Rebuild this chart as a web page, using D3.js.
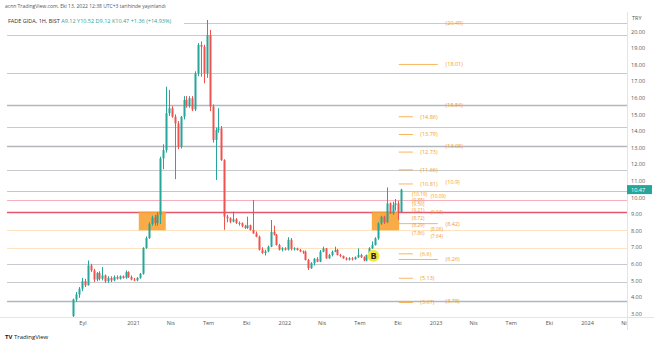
<!DOCTYPE html>
<html><head><meta charset="utf-8">
<script src="https://cdn.jsdelivr.net/npm/d3@7"></script>
<style>body{margin:0;background:#fff;} svg{display:block;font-family:"Open Sans","DejaVu Sans",sans-serif;}</style>
</head><body><svg id="c" width="654" height="346"></svg>
<script>
// ---------- DATA ----------
const firstWeek = "2020-08-10"; // weekly bars (1H = 1 hafta)
const open  = [2.85,3.85,4.15,4.5,4.95,4.7,5.9,5.6,5.05,5.45,5.1,5.3,4.95,5.15,5.0,5.2,5.1,5.25,5.15,5.5,5.2,5.05,5.0,5.15,5.4,6.95,7.55,8.4,8.8,8.45,8.95,12.35,12.85,15.07,15.37,14.86,14.46,13.06,14.86,15.87,15.5,15.97,15.3,17.47,19.18,19.08,17.47,19.78,15.47,13.46,14.06,14.16,12.25,
  8.84,8.74,8.54,8.68,8.46,8.44,8.26,8.16,8.32,8.04,7.83,7.63,6.85,6.65,6.75,7.03,7.93,7.75,7.13,6.85,6.93,6.85,7.45,6.9,6.93,6.83,6.75,6.73,6.23,5.73,6.03,6.3,6.13,6.73,6.93,6.33,6.53,6.73,6.83,6.53,6.47,6.33,6.25,6.33,6.27,6.39,6.53,6.39,6.2,6.53,6.93,7.13,7.53,8.44,8.84,8.5,9.64,9.04,9.54,9.64,9.12];
const high  = [3.9,4.3,4.6,5.15,5.1,6.2,6.0,5.7,5.5,5.55,5.8,5.35,5.25,5.25,5.3,5.3,5.3,5.3,5.6,5.55,5.3,5.15,5.2,5.45,7.0,7.65,8.5,8.9,8.95,9.1,12.45,13.2,16.67,16.47,15.5,15.0,14.6,14.9,16.1,16.1,16.1,16.1,17.6,19.3,19.4,19.2,20.69,20.09,15.6,14.2,15.37,14.3,12.3,
  8.95,8.8,9.14,8.75,8.55,8.5,8.35,8.84,8.36,9.84,7.95,7.7,7.0,6.85,7.1,8.64,8.3,7.8,7.2,7.0,7.0,7.6,7.55,7.0,6.97,6.9,6.8,6.8,6.3,6.1,6.35,6.4,6.83,7.03,6.95,6.6,6.8,7.03,6.9,6.6,6.5,6.4,6.4,6.4,6.45,6.93,6.6,6.45,6.55,7.0,7.35,7.6,8.5,8.9,8.9,10.6,9.7,9.74,9.9,9.8,10.52];
const low   = [2.8,3.7,3.95,4.35,4.6,4.7,5.5,4.9,4.95,5.0,5.0,4.85,4.85,4.9,4.95,5.05,5.05,5.1,5.1,5.15,5.0,4.95,4.95,5.1,5.35,6.9,7.5,8.3,8.3,8.3,8.4,11.7,12.7,14.9,14.8,11.1,12.9,12.95,14.7,15.4,15.4,15.2,15.2,17.3,17.27,16.87,17.2,15.2,13.3,11.05,13.9,12.2,8.05,
  8.5,8.45,8.5,8.4,8.3,8.2,8.1,8.1,8.0,7.8,7.6,6.8,6.6,6.5,6.7,7.0,7.7,7.1,6.8,6.75,6.8,6.8,6.8,6.8,6.8,6.7,6.6,6.2,5.63,5.7,5.9,6.1,6.1,6.7,6.3,6.3,6.45,6.7,6.5,6.4,6.3,6.2,6.2,6.2,6.25,6.35,6.35,6.15,6.15,6.5,6.9,7.1,7.45,8.35,8.4,8.45,9.0,8.95,9.2,8.64,9.12];
const close = [3.85,4.15,4.5,4.95,4.7,5.9,5.6,5.05,5.45,5.1,5.3,4.95,5.15,5.0,5.2,5.1,5.25,5.15,5.5,5.2,5.05,5.0,5.15,5.4,6.95,7.55,8.4,8.8,8.45,8.95,12.35,12.85,15.07,15.37,14.86,14.46,13.06,14.86,15.87,15.5,15.97,15.3,17.47,19.18,19.08,17.47,19.78,15.47,13.46,14.06,14.16,12.25,8.84,
  8.74,8.54,8.68,8.46,8.44,8.26,8.16,8.32,8.04,7.83,7.63,6.85,6.65,6.75,7.03,7.93,7.75,7.13,6.85,6.93,6.85,7.45,6.9,6.93,6.83,6.75,6.73,6.23,5.73,6.03,6.3,6.13,6.73,6.93,6.33,6.53,6.73,6.83,6.53,6.47,6.33,6.25,6.33,6.27,6.39,6.53,6.39,6.2,6.53,6.93,7.13,7.53,8.44,8.84,8.5,9.64,9.04,9.54,9.64,9.11,10.47];

const timeTickDates  = ["2020-09-01","2021-01-01","2021-04-01","2021-07-01","2021-10-01","2022-01-01","2022-04-01","2022-07-01","2022-10-01","2023-01-01","2023-04-01","2023-07-01","2023-10-01","2024-01-01","2024-04-01"];
const timeTickLabels = ["Eyl","2021","Nis","Tem","Eki","2022","Nis","Tem","Eki","2023","Nis","Tem","Eki","2024","Nis"];
const priceTicks = [3,4,5,6,7,8,9,10,11,12,13,14,15,16,17,18,19,20];

const greyLevels   = [20.49,19.78,17.48,14.26,11.66,5.97,4.92];
const darkLevels   = [15.54,13.08,3.78];
const pinkLevels   = [10.37,9.83];
const redLevels    = [9.14];
const orangeLevels = [8.02,6.93];

const zoneStart = ["2021-01-15","2022-07-31"];
const zoneEnd   = ["2021-03-21","2022-10-05"];
const zoneTop = 9.14, zoneBottom = 8.02;

const fibShort = [14.86,13.79,12.73,11.66,10.81,6.6,5.13,3.67];
const fibLong  = [20.49,18.01,15.54,13.08,10.9,8.42,6.26,3.78];
const fibClusterA = [10.19,9.85,9.56,9.21,8.72,8.29,7.86];
const fibClusterB = [10.09,9.13,8.06,7.64];
const fibLineStart = "2022-10-04", fibShortEnd = "2022-11-07", fibLongEnd = "2023-01-06";
const fibShortText = "2022-11-25", fibLongText = "2023-01-25", fibClusterAText = "2022-11-05", fibClusterBText = "2022-12-20";

const markerDate = "2022-08-04", markerValue = 6.48;
const lastClose = 10.47;

// ---------- CHART ----------
const svg = d3.select("#c");
const parse = d3.utcParse("%Y-%m-%d");
const plotL = 7, plotR = 627, plotT = 12, plotB = 317;
const x = d3.scaleUtc().domain([parse("2021-01-01"), parse("2024-01-01")]).range([133, 587]);
const y = d3.scaleLinear().domain([3, 20]).range([313.6, 31.4]);
const t0 = parse(firstWeek);
const bars = close.map((c, i) => ({d: d3.utcMonday.offset(t0, i), o: open[i], h: high[i], l: low[i], c}));

const GREEN = "#26a69a", RED = "#ef5350", ORANGE = "#f7a233";

svg.append("defs").append("clipPath").attr("id", "plot")
  .append("rect").attr("x", 0).attr("y", plotT).attr("width", plotR).attr("height", plotB - plotT);
svg.append("defs").append("clipPath").attr("id", "taxis")
  .append("rect").attr("x", 0).attr("y", plotB).attr("width", plotR).attr("height", 20);

const g = svg.append("g").attr("clip-path", "url(#plot)");

function hl(vals, color, w) {
  g.selectAll(null).data(vals).enter().append("line")
    .attr("x1", plotL).attr("x2", plotR)
    .attr("y1", d => Math.round(y(d)) + 0.5).attr("y2", d => Math.round(y(d)) + 0.5)
    .attr("stroke", color).attr("stroke-width", w);
}
hl(greyLevels, "#c8cacf", 1);
hl(darkLevels, "#b3b6bd", 1.4);
hl(pinkLevels, "#f4b0bd", 1);
hl(redLevels, "#e8566c", 1.4);
hl(orangeLevels, "#fde3c0", 1);

// zones
g.selectAll(null).data(zoneStart).enter().append("rect")
  .attr("x", (d, i) => x(parse(d)))
  .attr("width", (d, i) => x(parse(zoneEnd[i])) - x(parse(d)))
  .attr("y", y(zoneTop)).attr("height", y(zoneBottom) - y(zoneTop))
  .attr("fill", ORANGE).attr("opacity", 0.9);

// fib lines & labels
const fx0 = x(parse(fibLineStart));
g.selectAll(null).data(fibShort).enter().append("line")
  .attr("x1", fx0).attr("x2", x(parse(fibShortEnd)))
  .attr("y1", d => y(d)).attr("y2", d => y(d)).attr("stroke", ORANGE).attr("stroke-width", 0.8);
g.selectAll(null).data(fibLong.filter(v => [18.01, 8.42, 6.26].includes(v))).enter().append("line")
  .attr("x1", fx0).attr("x2", x(parse(fibLongEnd)))
  .attr("y1", d => y(d)).attr("y2", d => y(d)).attr("stroke", ORANGE).attr("stroke-width", 0.8);
function flabels(vals, dateStr, fs) {
  g.selectAll(null).data(vals).enter().append("text")
    .attr("x", x(parse(dateStr))).attr("y", d => y(d)).attr("dy", "0.35em")
    .attr("font-size", fs).attr("fill", "#f29d2b").text(d => "(" + d + ")");
}
flabels(fibShort, fibShortText, 5.5);
flabels(fibLong, fibLongText, 5.5);
flabels(fibClusterA, fibClusterAText, 4.8);
flabels(fibClusterB, fibClusterBText, 4.8);

// candles
const cg = g.append("g");
cg.selectAll("line.w").data(bars).enter().append("line")
  .attr("x1", d => Math.round(x(d.d)) + 0.5).attr("x2", d => Math.round(x(d.d)) + 0.5)
  .attr("y1", d => y(d.h)).attr("y2", d => y(d.l))
  .attr("stroke", d => d.c >= d.o ? GREEN : RED).attr("stroke-width", 1);
cg.selectAll("rect.b").data(bars).enter().append("rect")
  .attr("x", d => Math.round(x(d.d)) - 0.5).attr("width", 2)
  .attr("y", d => y(Math.max(d.o, d.c)))
  .attr("height", d => Math.max(1, Math.abs(y(d.o) - y(d.c))))
  .attr("fill", d => d.c >= d.o ? GREEN : RED);

// marker
const mx = x(parse(markerDate)), my = y(markerValue);
g.append("circle").attr("cx", mx).attr("cy", my).attr("r", 6).attr("fill", "#f5e43a");
g.append("text").attr("x", mx).attr("y", my).attr("dy", "0.36em").attr("text-anchor", "middle")
  .attr("font-size", 9).attr("font-weight", "bold").attr("fill", "#222").text("B");

// separators
svg.append("line").attr("x1", plotR + 0.5).attr("x2", plotR + 0.5).attr("y1", 12).attr("y2", 330).attr("stroke", "#e3e4e8");
svg.append("line").attr("x1", 0).attr("x2", 654).attr("y1", plotB + 0.5).attr("y2", plotB + 0.5).attr("stroke", "#e3e4e8");

// price axis
const ya = svg.append("g").attr("transform", `translate(${plotR},0)`)
  .call(d3.axisRight(y).tickValues(priceTicks).tickFormat(d3.format(".2f")).tickSize(0).tickPadding(4));
ya.select(".domain").remove();
ya.selectAll("text").attr("font-size", 5.5).attr("fill", "#555").attr("font-family", "Open Sans, DejaVu Sans, sans-serif");
svg.append("text").attr("x", 632).attr("y", 20).attr("font-size", 5.5).attr("fill", "#555").text("TRY");

// last price label
const ly = y(lastClose);
svg.append("rect").attr("x", plotR).attr("y", ly - 4.5).attr("width", 25).attr("height", 9).attr("fill", GREEN);
svg.append("text").attr("x", plotR + 4).attr("y", ly).attr("dy", "0.35em").attr("font-size", 5.5).attr("fill", "#fff").text(d3.format(".2f")(lastClose));

// time axis
const xa = svg.append("g").attr("clip-path", "url(#taxis)").append("g").attr("transform", `translate(0,${plotB})`)
  .call(d3.axisBottom(x).tickValues(timeTickDates.map(parse)).tickFormat((d, i) => timeTickLabels[i]).tickSize(0).tickPadding(4));
xa.select(".domain").remove();
xa.selectAll("text").attr("font-size", 5.5).attr("fill", "#555").attr("font-family", "Open Sans, DejaVu Sans, sans-serif");

// header & legend
svg.append("text").attr("x", 5).attr("y", 8).attr("font-size", 5).attr("fill", "#555")
  .text("acnn TradingView.com, Eki 13, 2022 12:38 UTC+3 tarihinde yayınlandı");
svg.append("rect").attr("x", 6).attr("y", 16).attr("width", 178).attr("height", 9).attr("fill", "#fff");
const lg = svg.append("text").attr("x", 8).attr("y", 22.5).attr("font-size", 5.5);
lg.append("tspan").attr("fill", "#333").text("FADE GIDA, 1H, BIST  ");
lg.append("tspan").attr("fill", GREEN).text("A9.12  Y10.52  D9.12  K10.47  +1.36 (+14.93%)");

// footer
const ft = svg.append("text").attr("x", 5).attr("y", 339).attr("font-size", 6);
ft.append("tspan").attr("font-weight", "bold").attr("fill", "#131722").text("TV ");
ft.append("tspan").attr("fill", "#131722").text("TradingView");
</script></body></html>
